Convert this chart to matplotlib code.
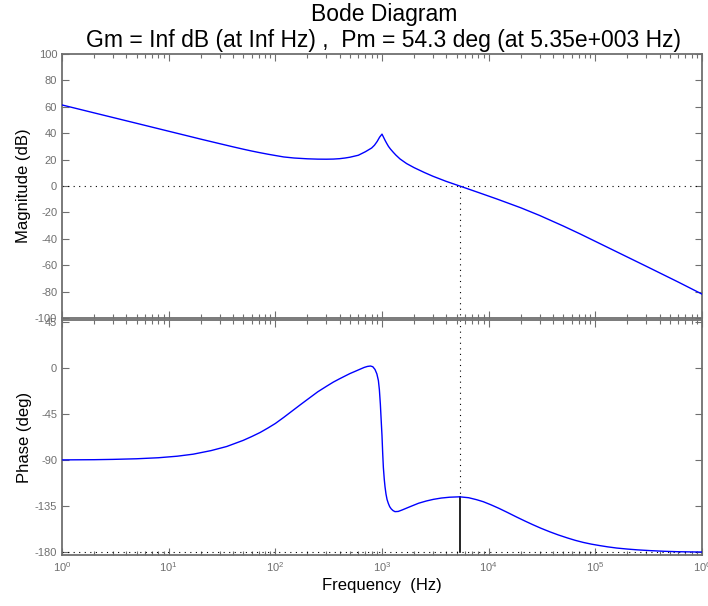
import numpy as np
import matplotlib
matplotlib.use('Agg')
import matplotlib.pyplot as plt
from matplotlib import rcParams
from matplotlib.ticker import LogLocator, NullFormatter, FixedLocator

rcParams['font.family'] = ['Liberation Sans', 'DejaVu Sans']
rcParams['mathtext.default'] = 'regular'
rcParams['axes.unicode_minus'] = False

# magnitude
freq_mag = [1, 2, 5, 10, 15, 20, 30, 40, 50, 60, 70, 85, 100, 120, 150, 200, 250,
            300, 350, 400, 450, 500, 600, 700, 800, 850, 900, 950, 1000, 1030, 1070,
            1107, 1150, 1200, 1277, 1350, 1475, 1700, 2000, 2500, 3000, 4000, 5350,
            8000, 12000, 20000, 30000, 50000, 72000, 1.5e5, 3e5, 6e5, 1e6]
mag_db = [61.4, 55.4, 47.5, 41.5, 38.0, 35.5, 32.1, 29.7, 27.9, 26.5, 25.4, 24.1,
          23.1, 22.0, 21.2, 20.6, 20.35, 20.3, 20.4, 20.7, 21.2, 21.8, 23.3, 26.0,
          28.8, 30.9, 33.7, 37.0, 39.3, 37.2, 34.5, 32.3, 30.0, 28.0, 25.5, 23.4,
          20.5, 17.0, 13.9, 10.2, 7.4, 3.5, 0.0, -4.9, -9.9, -16.5, -22.3, -30.3,
          -36.3, -48.9, -60.8, -72.8, -81.9]

# phase
freq_ph = [1, 2, 3, 5, 8, 12, 17, 25, 35, 50, 60, 72, 85, 100, 120, 147, 175, 200,
           250, 303, 350, 400, 450, 500, 560, 620, 680, 730, 780, 820, 860, 895, 925,
           945, 965, 985, 1000, 1015, 1030, 1050, 1067, 1090, 1115, 1146, 1180, 1220,
           1270, 1324, 1420, 1550, 1828, 2200, 2600, 3028, 3600, 4300, 5350, 6500,
           7700, 8910, 10500, 12500, 15000, 18300, 22000, 26000, 31000, 37600, 45000,
           55000, 65000, 77100, 92000, 1.1e5, 1.3e5, 1.585e5, 2e5, 2.5e5, 3.25e5,
           4.5e5, 6e5, 8e5, 1e6]
phase_deg = [-89.6, -89.4, -89.1, -88.5, -87.5, -86.0, -84.0, -80.5, -76.5, -70.5,
             -66.8, -62.8, -58.5, -54.0, -48.0, -41.0, -35.0, -30.5, -23.0, -17.5,
             -13.5, -10.3, -7.6, -5.2, -3.0, -1.0, 0.8, 1.8, 2.2, 1.5, -1.2, -5.5,
             -12.0, -21.0, -35.0, -53.0, -66.0, -83.0, -97.0, -108.5, -115.8, -123.0,
             -128.3, -132.1, -135.3, -137.5, -139.2, -140.2, -140.0, -138.5, -135.4,
             -132.0, -129.8, -128.2, -126.9, -126.1, -125.7, -126.6, -128.5, -130.5,
             -133.5, -137.0, -141.0, -145.5, -149.5, -153.0, -156.5, -160.0, -163.0,
             -166.0, -168.3, -170.3, -172.0, -173.4, -174.6, -175.8, -176.8, -177.6,
             -178.3, -179.0, -179.4, -179.6, -179.7]

wc = 5.35e3
pm_phase = -125.7

GRAY = '#6f6f6f'

fig = plt.figure(figsize=(7.08, 6.06), dpi=100)
ax1 = fig.add_axes([62/708, 1-318/606, 640/708, 264/606])
ax2 = fig.add_axes([62/708, 1-555/606, 640/708, 235/606])

ax1.plot(freq_mag, mag_db, color='blue', lw=1.0, zorder=5)
ax2.plot(freq_ph, phase_deg, color='blue', lw=1.0, zorder=5)

# margin markers
ax1.axhline(0, color='black', ls=(0, (1, 4)), lw=0.8)
ax1.plot([wc, wc], [0, -100], color='black', ls=(0, (1, 4)), lw=0.8)
ax2.axhline(-180, color='black', ls=(0, (1, 4)), lw=0.8)
ax2.plot([wc, wc], [47.2, pm_phase], color='black', ls=(0, (1, 4)), lw=0.8)
ax2.plot([wc, wc], [pm_phase, -180], color='black', lw=1.2)

for ax in (ax1, ax2):
    ax.set_xscale('log')
    ax.set_xlim(1, 1e6)
    ax.xaxis.set_major_locator(LogLocator(base=10, numticks=10))
    ax.xaxis.set_minor_locator(LogLocator(base=10, subs=np.arange(2, 10), numticks=20))
    ax.xaxis.set_minor_formatter(NullFormatter())
    ax.tick_params(which='both', direction='in', top=True, right=True,
                   color=GRAY, labelcolor=GRAY, labelsize=8)
    ax.tick_params(which='major', length=5, width=0.8)
    ax.tick_params(which='minor', length=3, width=0.8)
    for s in ax.spines.values():
        s.set_color(GRAY)
        s.set_linewidth(1.3)

ax1.set_ylim(-100, 100)
ax1.yaxis.set_major_locator(FixedLocator(np.arange(-100, 101, 20)))
ax1.tick_params(labelbottom=False)
ax1.set_ylabel('Magnitude (dB)', fontsize=12, labelpad=3)

ax2.set_ylim(-182.6, 47.2)
ax2.yaxis.set_major_locator(FixedLocator([-180, -135, -90, -45, 0, 45]))
ax2.set_ylabel('Phase (deg)', fontsize=12, labelpad=2)
ax2.set_xlabel('Frequency  (Hz)', fontsize=12, labelpad=3)
ax2.set_xticks([1, 10, 100, 1e3, 1e4, 1e5, 1e6])
ax2.set_xticklabels([r'$10^{%d}$' % i for i in range(7)])

xc = 384 / 708
fig.text(xc, 1 - 21/606, 'Bode Diagram', ha='center', va='baseline', fontsize=16.5)
fig.text(xc, 1 - 47/606, 'Gm = Inf dB (at Inf Hz) ,  Pm = 54.3 deg (at 5.35e+003 Hz)',
         ha='center', va='baseline', fontsize=16.5)

fig.savefig('out.png', dpi=100)
